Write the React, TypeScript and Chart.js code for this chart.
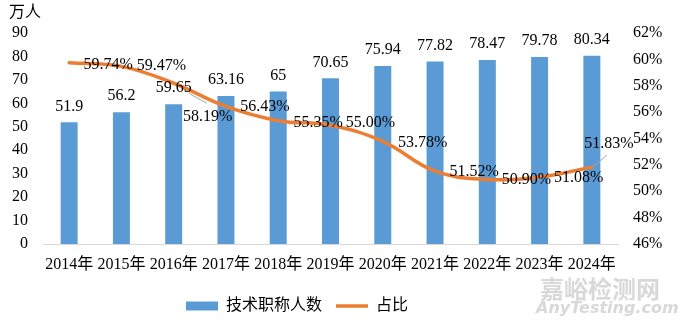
import React, { useEffect, useRef } from "react";
import { Chart, registerables } from "chart.js";

Chart.register(...registerables);

// ---- data ----
const years = ["2014年", "2015年", "2016年", "2017年", "2018年", "2019年", "2020年", "2021年", "2022年", "2023年", "2024年"];
const techStaff = [51.9, 56.2, 59.65, 63.16, 65, 70.65, 75.94, 77.82, 78.47, 79.78, 80.34];
const shares = [59.74, 59.47, 58.19, 56.43, 55.35, 55.0, 53.78, 51.52, 50.9, 51.08, 51.83];
const leftTickValues = [0, 10, 20, 30, 40, 50, 60, 70, 80, 90];
const rightTickValues = [46, 48, 50, 52, 54, 56, 58, 60, 62];
const seriesNames = ["技术职称人数", "占比"];
const unitLabel = "万人";

// ---- label placement (pixel offsets from each point) ----
const shareLabelOffsets: [number, number][] = [
  [39, 2], [40, -1], [34, 34], [39, 0], [40, 2], [40, -3],
  [40, 1], [39, 1], [39, 0], [39, 1], [17, -23],
];
// leader lines: [index, x0, y0, x1, y1] relative to point
const leaderLines: [number, number, number, number, number][] = [
  [2, 15, 10, 33, 20],
  [10, 1, 0, 15, -12],
];

const SERIF = "'Liberation Serif', 'Times New Roman', 'Noto Sans CJK SC', serif";
const BLUE = "#5B9BD5";
const ORANGE = "#ED7D31";

const labelsPlugin = {
  id: "customLabels",
  afterDatasetsDraw(chart: any) {
    const ctx = chart.ctx;
    ctx.save();
    ctx.font = `16px ${SERIF}`;
    ctx.fillStyle = "#000";
    ctx.textAlign = "center";
    ctx.textBaseline = "middle";
    const barMeta = chart.getDatasetMeta(0);
    barMeta.data.forEach((el: any, i: number) => {
      ctx.fillText(String(techStaff[i]), el.x, el.y - 16);
    });
    const lineMeta = chart.getDatasetMeta(1);
    ctx.strokeStyle = "#a6a6a6";
    ctx.lineWidth = 1;
    leaderLines.forEach(([i, x0, y0, x1, y1]) => {
      const p = lineMeta.data[i];
      ctx.beginPath();
      ctx.moveTo(p.x + x0, p.y + y0);
      ctx.lineTo(p.x + x1, p.y + y1);
      ctx.stroke();
    });
    lineMeta.data.forEach((pt: any, i: number) => {
      const [dx, dy] = shareLabelOffsets[i];
      ctx.fillText(shares[i].toFixed(2) + "%", pt.x + dx, pt.y + dy);
    });
    ctx.restore();
  },
  afterDraw(chart: any) {
    const ctx = chart.ctx;
    ctx.save();
    ctx.font = `16px ${SERIF}`;
    ctx.fillStyle = "#000";
    ctx.textAlign = "left";
    ctx.textBaseline = "middle";
    ctx.fillText(unitLabel, 9, 13);
    // watermark
    ctx.fillStyle = "rgba(200,200,200,0.7)";
    ctx.font = "bold 24px 'Noto Sans CJK SC', sans-serif";
    ctx.textBaseline = "middle";
    ctx.fillText("嘉峪检测网", 540, 289);
    ctx.font = "italic bold 16px 'DejaVu Sans', sans-serif";
    ctx.fillText("AnyTesting.com", 536, 309);
    ctx.restore();
  },
};

const legendShiftPlugin = {
  id: "legendShift",
  afterLayout(chart: any) {
    const lg = chart.legend;
    if (lg) {
      lg.left -= 43;
      lg.right -= 43;
    }
  },
};

export default function App() {
  const canvasRef = useRef<HTMLCanvasElement | null>(null);

  useEffect(() => {
    if (!canvasRef.current) return;
    const chart = new Chart(canvasRef.current, {
      type: "bar",
      data: {
        labels: years,
        datasets: [
          {
            type: "bar",
            label: seriesNames[0],
            data: techStaff,
            backgroundColor: BLUE,
            borderColor: BLUE,
            borderWidth: 0,
            barPercentage: 0.325,
            categoryPercentage: 1,
            yAxisID: "y",
            order: 2,
          },
          {
            type: "line",
            label: seriesNames[1],
            data: shares,
            borderColor: ORANGE,
            backgroundColor: ORANGE,
            borderWidth: 3.5,
            pointRadius: 0,
            tension: 0.4,
            fill: false,
            borderCapStyle: "round",
            yAxisID: "y1",
            order: 1,
          },
        ] as any,
      },
      options: {
        responsive: false,
        animation: false,
        devicePixelRatio: 1,
        layout: { padding: { top: 33, left: 0, right: 0, bottom: 4 } },
        plugins: {
          tooltip: { enabled: false },
          legend: {
            position: "bottom",
            labels: {
              usePointStyle: true,
              pointStyleWidth: 32,
              boxHeight: 9,
              padding: 14,
              color: "#000",
              font: { size: 16, family: SERIF },
              generateLabels: (c: any) =>
                c.data.datasets.map((ds: any, i: number) => ({
                  text: ds.label,
                  fillStyle: i === 0 ? BLUE : ORANGE,
                  strokeStyle: i === 0 ? BLUE : ORANGE,
                  lineWidth: i === 0 ? 0 : 3.5,
                  pointStyle: i === 0 ? "rect" : "line",
                  hidden: false,
                  datasetIndex: i,
                  fontColor: "#000",
                })),
            },
          },
        },
        scales: {
          x: {
            grid: { display: false, drawTicks: false },
            border: { display: true, color: "#d9d9d9", width: 1 },
            ticks: {
              color: "#000",
              font: { size: 16, family: SERIF },
              padding: 11,
              maxRotation: 0,
              autoSkip: false,
            },
            afterFit: (s: any) => {
              s.height = 40;
            },
          },
          y: {
            position: "left",
            min: 0,
            max: 90,
            grid: { display: false, drawTicks: false },
            border: { display: false },
            afterBuildTicks: (s: any) => {
              s.ticks = leftTickValues.map((v) => ({ value: v }));
            },
            ticks: {
              color: "#000",
              font: { size: 16, family: SERIF },
              padding: 15,
            },
            afterFit: (s: any) => {
              s.width = 43;
            },
          },
          y1: {
            position: "right",
            min: 46,
            max: 62,
            grid: { display: false, drawTicks: false },
            border: { display: false },
            afterBuildTicks: (s: any) => {
              s.ticks = rightTickValues.map((v) => ({ value: v }));
            },
            ticks: {
              color: "#000",
              font: { size: 16, family: SERIF },
              padding: 15,
              callback: (v: any) => v + "%",
            },
            afterFit: (s: any) => {
              s.width = 62;
            },
          },
        },
      },
      plugins: [labelsPlugin, legendShiftPlugin],
    } as any);
    return () => chart.destroy();
  }, []);

  return (
    <div style={{ position: "absolute", left: 0, top: 0, width: 680, height: 328, background: "#fff" }}>
      <canvas ref={canvasRef} width={680} height={328} style={{ display: "block", width: 680, height: 328 }} />
    </div>
  );
}
